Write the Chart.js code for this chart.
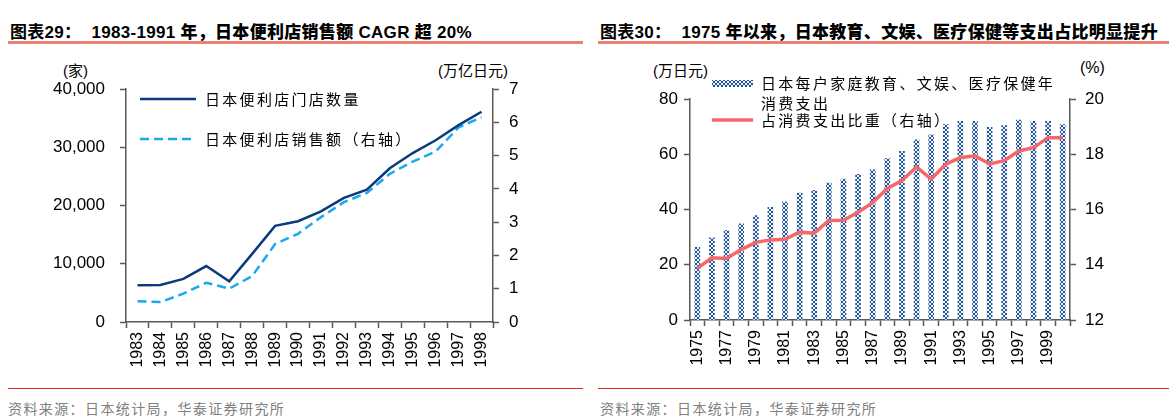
<!DOCTYPE html>
<html>
<head>
<meta charset="utf-8">
<script src="https://cdn.jsdelivr.net/npm/chart.js@4/dist/chart.umd.min.js"></script>
<style>
body{margin:0;width:1176px;height:420px;background:#fff;position:relative;overflow:hidden;
  font-family:"Liberation Sans","Noto Sans CJK SC",sans-serif;color:#000;}
.title{position:absolute;top:18px;font-size:17px;font-weight:bold;white-space:nowrap;letter-spacing:0.3px;}
.title b{margin-left:10px;}
.rule{position:absolute;top:41px;height:3px;background:#EC8171;}
.foot-rule{position:absolute;top:388px;height:1px;background:#E2231A;}
.foot{position:absolute;top:398px;font-size:14px;letter-spacing:1.4px;color:#808080;font-family:"Noto Sans CJK SC";white-space:nowrap;}
.unit{position:absolute;top:59px;font-size:15px;white-space:nowrap;}
canvas{position:absolute;top:50px;}
</style>
</head>
<body>
<div class="title" style="left:10px">图表29：<b>1983-1991 年，日本便利店销售额 CAGR 超 20%</b></div>
<div class="rule" style="left:8px;width:575px"></div>
<div class="title" style="left:600px">图表30：<b>1975 年以来，日本教育、文娱、医疗保健等支出占比明显提升</b></div>
<div class="rule" style="left:598px;width:571px"></div>

<div class="unit" style="left:63px">(家)</div>
<div class="unit" style="left:438px">(万亿日元)</div>
<div class="unit" style="left:653px">(万日元)</div>
<div class="unit" style="left:1080px;font-size:16px">(%)</div>

<canvas id="graph_store" width="590" height="335" style="left:0"></canvas>
<canvas id="graph_edu" width="586" height="335" style="left:590px"></canvas>

<div class="foot-rule" style="left:8px;width:575px"></div>
<div class="foot-rule" style="left:598px;width:571px"></div>
<div class="foot" style="left:8px">资料来源：日本统计局，华泰证券研究所</div>
<div class="foot" style="left:600px">资料来源：日本统计局，华泰证券研究所</div>

<script>
// Chart 29: convenience stores
const store_years = ['1983','1984','1985','1986','1987','1988','1989','1990',
                     '1991','1992','1993','1994','1995','1996','1997','1998'];
const store_count = [6300, 6350, 7400, 9600, 7000, 11700, 16500, 17300,
                     19000, 21300, 22700, 26400, 29000, 31200, 33800, 36100];
const store_sales = [0.62, 0.60, 0.85, 1.18, 1.00, 1.38, 2.34, 2.65,
                     3.15, 3.60, 3.88, 4.45, 4.82, 5.12, 5.85, 6.15];
const store_labels = ['日本便利店门店数量', '日本便利店销售额（右轴）'];

// Chart 30: education / leisure / medical spending
const edu_years = ['1975','1976','1977','1978','1979','1980','1981','1982','1983',
                   '1984','1985','1986','1987','1988','1989','1990','1991','1992',
                   '1993','1994','1995','1996','1997','1998','1999','2000'];
const edu_spend = [26.3, 29.7, 32.4, 34.8, 37.8, 40.8, 42.7, 45.9, 46.9,
                   49.6, 51.0, 52.7, 54.4, 58.4, 61.1, 65.2, 67.0, 70.7,
                   71.9, 71.9, 69.7, 70.4, 72.4, 71.9, 71.9, 70.7];
const edu_share = [13.87, 14.25, 14.23, 14.55, 14.81, 14.90, 14.92, 15.18, 15.14,
                   15.60, 15.61, 15.90, 16.25, 16.76, 17.05, 17.54, 17.10, 17.64,
                   17.88, 17.94, 17.65, 17.77, 18.12, 18.24, 18.60, 18.60];
const edu_labels = [['日本每户家庭教育、文娱、医疗保健年', '消费支出'], '占消费支出比重（右轴）'];

const AXIS = '#595959';
const TICK_FONT = {family: '"Liberation Sans", Arial', size: 17};

// small X-tile used to fill the bars
function crossPattern() {
  const c = document.createElement('canvas');
  c.width = 4; c.height = 4;
  const g = c.getContext('2d');
  g.fillStyle = '#eef3fa'; g.fillRect(0, 0, 4, 4);
  g.fillStyle = '#22559a';
  [[0,0],[3,0],[1,1],[2,1],[1,2],[2,2],[0,3],[3,3]].forEach(([x,y]) => g.fillRect(x, y, 1, 1));
  return g.createPattern(c, 'repeat');
}

// legend drawn at fixed spots, text may wrap over several lines
const sideLegend = {
  id: 'sideLegend',
  afterDraw(chart, args, opts) {
    const ctx = chart.ctx;
    ctx.save();
    ctx.font = '15px "Noto Sans CJK SC"';
    ctx.letterSpacing = '2.3px';
    ctx.textBaseline = 'middle';
    opts.items.forEach(it => {
      const ds = chart.data.datasets[it.ds];
      if (it.kind === 'box') {
        ctx.fillStyle = ds.backgroundColor;
        ctx.fillRect(it.x0, it.y - 3, it.x1 - it.x0, 7);
      } else {
        ctx.strokeStyle = ds.borderColor;
        ctx.lineWidth = ds.borderWidth;
        ctx.setLineDash(ds.borderDash || []);
        ctx.beginPath(); ctx.moveTo(it.x0, it.y); ctx.lineTo(it.x1, it.y); ctx.stroke();
      }
      ctx.fillStyle = '#000';
      const lines = Array.isArray(ds.label) ? ds.label : [ds.label];
      lines.forEach((t, k) => ctx.fillText(t, it.tx, it.y + k * 20));
    });
    ctx.restore();
  }
};

function sideAxis(pos, min, max, step, width, pad, fmt) {
  const ticks = {stepSize: step, color: '#000', font: TICK_FONT, padding: pad};
  if (fmt) ticks.callback = fmt;
  return {
    position: pos, min, max, ticks,
    grid: {drawOnChartArea: false, tickLength: 6, color: AXIS, tickWidth: 1.5},
    border: {color: AXIS, width: 1.5},
    afterFit: s => { s.width = width; },
  };
}

function yearAxis(height, labels, every) {
  return {
    offset: true,
    grid: {offset: true, drawOnChartArea: false, tickLength: 6, color: AXIS, tickWidth: 1.5},
    border: {color: AXIS, width: 1.5},
    ticks: {maxRotation: 90, minRotation: 90, autoSkip: false, padding: 4,
            color: '#000', font: {family: '"Liberation Sans", Arial', size: 16},
            callback: (v, i) => i % every === 0 ? labels[i] : ''},
    afterFit: s => { s.height = height; },
  };
}

const common = {
  responsive: false,
  animation: false,
  devicePixelRatio: 1,
  plugins: {legend: {display: false}, tooltip: {enabled: false}},
};

new Chart(graph_store, {
  type: 'line',
  data: {
    labels: store_years,
    datasets: [{
      label: store_labels[0],
      data: store_count,
      yAxisID: 'y',
      borderColor: '#0B3B7C',
      borderWidth: 2.5,
      pointRadius: 0,
      tension: 0,
    }, {
      label: store_labels[1],
      data: store_sales,
      yAxisID: 'y1',
      borderColor: '#19A9EC',
      borderWidth: 2.5,
      borderDash: [9, 5],
      pointRadius: 0,
      tension: 0,
    }],
  },
  options: {
    ...common,
    layout: {padding: {top: 39}},
    scales: {
      x: yearAxis(63, store_years, 1),
      y: sideAxis('left', 0, 40000, 10000, 126, 15, v => v.toLocaleString('en-US')),
      y1: sideAxis('right', 0, 7, 1, 97, 10),
    },
    plugins: {
      ...common.plugins,
      sideLegend: {items: [
        {ds: 0, kind: 'line', x0: 140, x1: 196, y: 49, tx: 205},
        {ds: 1, kind: 'line', x0: 140, x1: 196, y: 89, tx: 205},
      ]},
    },
  },
  plugins: [sideLegend],
});

new Chart(graph_edu, {
  type: 'bar',
  data: {
    labels: edu_years,
    datasets: [{
      label: edu_labels[0],
      data: edu_spend,
      yAxisID: 'y',
      backgroundColor: crossPattern(),
      barThickness: 5,
      order: 1,
    }, {
      type: 'line',
      label: edu_labels[1],
      data: edu_share,
      yAxisID: 'y1',
      borderColor: '#F5676B',
      borderWidth: 3.5,
      pointRadius: 0,
      tension: 0,
      order: 0,
    }],
  },
  options: {
    ...common,
    layout: {padding: {top: 49}},
    scales: {
      x: yearAxis(65, edu_years, 2),
      y: sideAxis('left', 0, 80, 20, 100, 6),
      y1: sideAxis('right', 12, 20, 2, 106, 9),
    },
    plugins: {
      ...common.plugins,
      sideLegend: {items: [
        {ds: 0, kind: 'box', x0: 122, x1: 163, y: 33, tx: 171},
        {ds: 1, kind: 'line', x0: 122, x1: 163, y: 70, tx: 171},
      ]},
    },
  },
  plugins: [sideLegend],
});
</script>
</body>
</html>
